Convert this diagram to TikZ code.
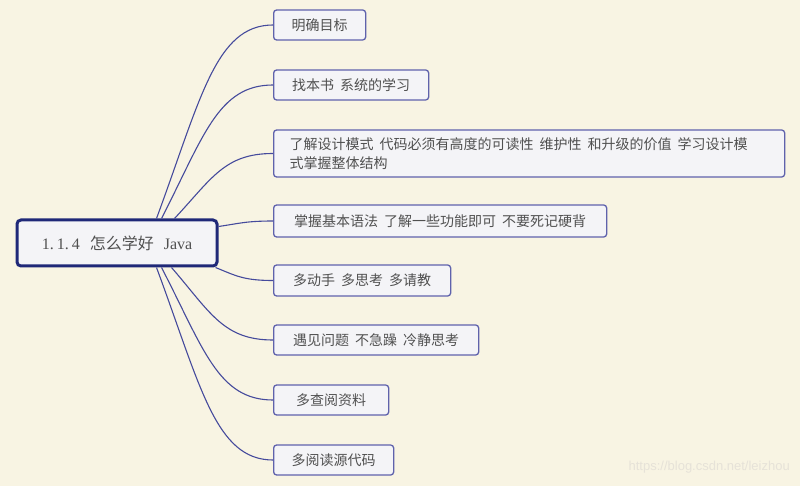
\documentclass[tikz,border=0pt]{standalone}
\usepackage{fontspec}
\setmainfont{Liberation Serif}
\newfontfamily\cjk{Noto Sans CJK SC}
\newfontfamily\wmfont{Liberation Sans}
\definecolor{bg}{HTML}{F8F4E3}
\definecolor{boxfill}{HTML}{F4F4F7}
\definecolor{boxline}{HTML}{5F62AC}
\definecolor{rootline}{HTML}{1F2878}
\definecolor{edgec}{HTML}{454A9C}
\definecolor{txt}{HTML}{505050}
\definecolor{wm}{HTML}{E6E2D8}
\newcommand\gap{\hspace{6pt}}
\begin{document}
\begin{tikzpicture}[x=1pt,y=1pt,
  childbox/.style={draw=boxline, line width=1.3pt, fill=boxfill, rounded corners=3pt,
    anchor=west, minimum height=30pt, inner xsep=0pt, inner ysep=3pt,
    font=\cjk\fontsize{14}{19.5}\selectfont, text=txt},
  rootbox/.style={draw=rootline, line width=3pt, fill=boxfill, rounded corners=4pt,
    minimum width=200pt, minimum height=46pt, inner sep=0pt,
    font=\fontsize{16}{19}\selectfont, text=txt},
  edge/.style={draw=edgec, line width=1.1pt}]
\useasboundingbox (0,0) rectangle (800,-486);
\fill[bg] (0,0) rectangle (800,-486);

\node[rootbox] (root) at (117,-243) {1.\hspace{3pt}1.\hspace{3pt}4\hspace{10pt}{\cjk 怎么学好}\hspace{10pt}Java};

\node[childbox, minimum width=92pt]  (c1) at (273,-25)  {明确目标};
\node[childbox, minimum width=155pt] (c2) at (273,-85)  {找本书\gap 系统的学习};
\node[childbox, minimum width=511pt, minimum height=47pt, inner xsep=16pt,
      text width=479pt, align=left] (c3) at (273,-153.5)
  {了解设计模式\gap 代码必须有高度的可读性\gap 维护性\gap 和升级的价值\gap 学习设计模\\式掌握整体结构};
\node[childbox, minimum width=333pt, minimum height=32pt] (c4) at (273,-221) {掌握基本语法\gap 了解一些功能即可\gap 不要死记硬背};
\node[childbox, minimum width=177pt, minimum height=31pt] (c5) at (273,-280.5) {多动手\gap 多思考\gap 多请教};
\node[childbox, minimum width=205pt] (c6) at (273,-340) {遇见问题\gap 不急躁\gap 冷静思考};
\node[childbox, minimum width=115pt] (c7) at (273,-400) {多查阅资料};
\node[childbox, minimum width=120pt] (c8) at (273,-460) {多阅读源代码};

\coordinate (s1) at ([xshift=141pt]root.north west);
\coordinate (s2) at ([xshift=146pt]root.north west);
\coordinate (s3) at ([xshift=159pt]root.north west);
\coordinate (s4) at ([yshift=-8pt]root.north east);
\coordinate (s5) at ([xshift=-3pt]root.south east);
\coordinate (s6) at ([xshift=156pt]root.south west);
\coordinate (s7) at ([xshift=146pt]root.south west);
\coordinate (s8) at ([xshift=141pt]root.south west);

\draw[edge] (s1) .. controls (200.6,-99.1) and (215.5,-25) .. (c1.west);
\draw[edge] (s2) .. controls (203.7,-136.3) and (218,-85) .. (c2.west);
\draw[edge] (s3) .. controls (211.9,-178.5) and (224.5,-153.5) .. (c3.west);
\draw[edge] (s4) .. controls (238,-223.7) and (245.5,-221) .. (c4.west);
\draw[edge] (s5) .. controls (235.8,-275.7) and (243.5,-280.5) .. (c5.west);
\draw[edge] (s6) .. controls (210,-311.9) and (223,-340) .. (c6.west);
\draw[edge] (s7) .. controls (203.7,-349) and (218,-400) .. (c7.west);
\draw[edge] (s8) .. controls (200.6,-386.3) and (215.5,-460) .. (c8.west);

\node[font=\wmfont\fontsize{13}{15}\selectfont, text=wm, anchor=east, inner sep=0pt] (wmark) at (790,-467) {https://blog.csdn.net/leizhou};
\end{tikzpicture}
\end{document}
